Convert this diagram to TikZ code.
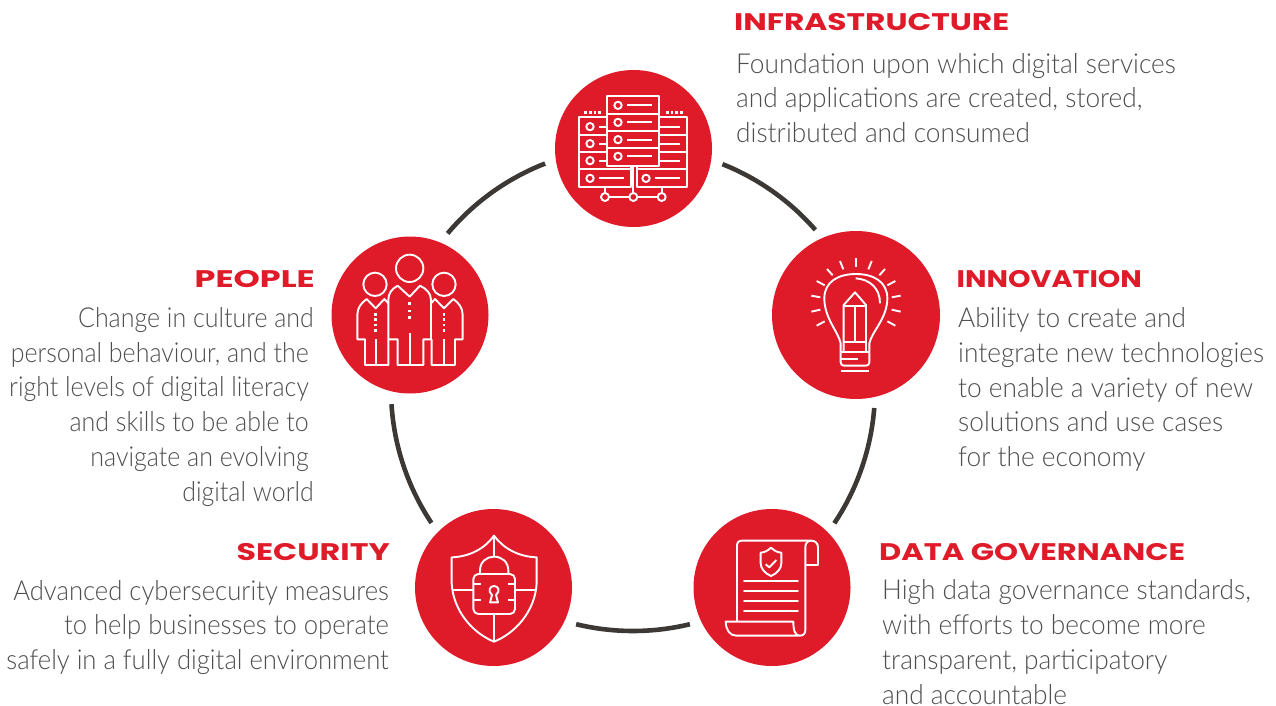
\documentclass[tikz,border=0pt]{standalone}
\usepackage{graphicx}
\usepackage{fontspec}
\setmainfont[FakeStretch=0.955]{Lato Light}
\newfontfamily\narrowa[FakeStretch=0.908]{Lato Light}
\newfontfamily\narrowb[FakeStretch=0.933]{Lato Light}
\newfontfamily\headfont[FakeStretch=1.18]{Poppins Bold}
\definecolor{brand}{HTML}{DF1B2A}
\definecolor{ringc}{HTML}{3B3835}
\definecolor{bodyc}{HTML}{4E4E50}
\tikzset{
  badge/.style={circle,fill=brand,draw=none,inner sep=0pt,minimum size=157pt},
  ringarc/.style={draw=ringc,line width=4.6pt},
  head/.style={text=brand,inner sep=0pt,font=\headfont\fontsize{24}{28}\selectfont},
  para/.style={text=bodyc,inner sep=0pt,font=\fontsize{27.5}{34.7}\selectfont},
  icon/.style={draw=white,line width=1.9pt,line join=round,line cap=butt,fill=none},
  iconfine/.style={icon,line cap=round},
  px/.style={shift={#1},x=0.33333pt,y=-0.33333pt}
}
\begin{document}
\begin{tikzpicture}[x=1pt,y=-1pt]
\useasboundingbox (0,0) rectangle (1276,706);
% ring
\coordinate (ring) at (633,389);
\foreach \n/\a/\b in {ab/-68.3/-41.1,bc/4.5/33.7,cd/76.4/103.6,de/146.4/176.4,ea/220/248.7}{
  \path (ring) ++(\a:242) coordinate (start\n);
  \draw[ringarc] (start\n) arc[start angle=\a,end angle=\b,radius=242];
}
% badges
\node[badge] (infra) at (633.5,148.5) {};
\node[badge,minimum size=168pt] (innov) at (856,315) {};
\node[badge] (people) at (410,315) {};
\node[badge] (secur) at (493.5,587.5) {};
\node[badge] (data) at (772,587.5) {};
% server icon
\begin{scope}[px={(550,65)}]
 \draw[icon] (172,93) rectangle (328,302);
 \foreach \y in {147,198,250} \draw[icon] (172,\y)--(328,\y);
 \draw[icon] (172,157)--(88,157)--(88,367)--(242,367)--(242,302);
 \draw[icon] (328,157)--(412,157)--(412,367)--(260,367)--(260,302);
 \foreach \y in {210,262} {\draw[icon] (88,\y)--(172,\y);\draw[icon] (328,\y)--(412,\y);}
 \draw[icon] (88,313)--(242,313);\draw[icon] (260,313)--(412,313);
 \foreach \y in {121,172,224,274} {\draw[icon] (204,\y) circle[radius=11];\draw[icon] (232,\y)--(305,\y);}
 \foreach \y in {185,236,287} {\draw[icon] (120,\y) circle[radius=11];\draw[icon] (148,\y)--(172,\y);\draw[icon] (328,\y)--(390,\y);}
 \draw[icon] (120,340) circle[radius=11];\draw[icon] (148,340)--(222,340);
 \draw[icon] (288,340) circle[radius=11];\draw[icon] (316,340)--(390,340);
 \foreach \x in {107,121,135,149,352,366,380,394} \fill[white] (\x-4,138) rectangle (\x+4,146);
 \foreach \x in {165,250,335} \draw[icon] (\x,396) circle[radius=12];
 \draw[icon] (177,396)--(238,396);\draw[icon] (262,396)--(323,396);
 \draw[icon] (165,367)--(165,384);\draw[icon] (335,367)--(335,384);\draw[icon] (250,302)--(250,384);
\end{scope}
% bulb icon
\begin{scope}[px={(770,235)}]
 \foreach \a/\b/\c/\d in {258/70/258/96,210/78/220/103,171/102/188/121,140/138/164/151,124/182/151/187,124/230/151/224,140/272/164/259,295/103/305/78,328/121/345/102,352/151/376/138,365/187/392/182,365/224/392/230,352/259/376/272}
   \draw[icon] (\a,\b)--(\c,\d);
 \draw[icon] (212,352)--(212,325) .. controls (205,290) and (163,250) .. (163,190) .. controls (163,140) and (205,117) .. (258,117) .. controls (310,117) and (352,140) .. (352,190) .. controls (352,250) and (305,290) .. (298,325)--(298,352);
 \draw[icon] (257,130) .. controls (300,133) and (330,160) .. (330,205);
 \draw[icon] (221,352)--(221,210)--(255,172)--(288,210)--(288,352);
 \draw[icon] (221,212)--(288,212);\draw[icon] (255,212)--(255,320);
 \draw[icon] (221,322)--(288,322);\draw[icon] (212,352)--(298,352);
 \draw[icon] (212,352)--(212,382) .. controls (212,388) and (216,392) .. (222,392)--(288,392) .. controls (294,392) and (298,388) .. (298,382)--(298,352);
 \draw[icon] (212,372)--(265,372);\draw[icon] (212,407)--(298,407);
\end{scope}
% people icon
\begin{scope}[px={(325,235)}]
 \draw[icon] (254,100) circle[radius=41];
 \draw[icon] (218,152)--(254,185)--(285,152) .. controls (305,162) and (318,175) .. (318,195)--(318,313)--(295,313)--(295,390)--(218,390)--(218,313)--(190,313)--(190,195) .. controls (190,175) and (200,162) .. (218,152);
 \draw[icon] (254,295)--(254,390);
 \foreach \y in {205,228,248} \fill[white] (250,\y-4) rectangle (258,\y+4);
 \draw[icon] (150,148) circle[radius=35];
 \draw[icon] (190,205)--(178,192)--(152,220)--(125,192) .. controls (108,205) and (97,218) .. (97,240)--(97,313)--(120,313)--(120,390)--(190,390)--(190,313);
 \draw[icon] (153,313)--(153,390);
 \draw[icon] (357,148) circle[radius=35];
 \draw[icon] (318,205)--(330,192)--(357,220)--(385,192) .. controls (402,205) and (413,218) .. (413,240)--(413,313)--(390,313)--(390,390)--(320,390)--(320,313);
 \draw[icon] (357,313)--(357,390);
 \foreach \x in {152,357} \foreach \y in {238,254,270,286} \fill[white] (\x-4,\y-4) rectangle (\x+4,\y+4);
\end{scope}
% shield icon
\begin{scope}[px={(410,505)}]
 \draw[icon] (252,92) .. controls (225,130) and (180,155) .. (125,157)--(125,235) .. controls (130,320) and (190,385) .. (252,410) .. controls (315,385) and (375,320) .. (380,235)--(380,157) .. controls (325,155) and (280,130) .. (252,92)--cycle;
 \draw[icon] (252,92)--(252,155);\draw[icon] (252,327)--(252,410);
 \draw[icon] (128,255)--(190,255);\draw[icon] (315,255)--(377,255);
 \draw[icon,rounded corners=5pt] (190,207) rectangle (315,327);
 \draw[icon] (210,207)--(210,197) .. controls (210,170) and (230,155) .. (252,155) .. controls (275,155) and (295,170) .. (295,197)--(295,207);
 \draw[icon] (190,237)--(212,237);\draw[icon] (190,285)--(212,285);
 \draw[icon] (293,237)--(315,237);\draw[icon] (293,285)--(315,285);
 \draw[icon] (246,270) .. controls (232,258) and (240,243) .. (252,243) .. controls (265,243) and (272,258) .. (258,270)--(264,292)--(240,292)--cycle;
\end{scope}
% document icon
\begin{scope}[px={(688,505)}]
 \draw[icon] (147,350)--(147,122) .. controls (147,112) and (152,107) .. (162,107)--(370,107) .. controls (382,107) and (390,115) .. (390,127)--(390,180)--(352,180);
 \draw[icon] (370,107) .. controls (358,107) and (352,115) .. (352,127)--(352,375) .. controls (352,386) and (346,392) .. (335,392) .. controls (322,392) and (316,378) .. (316,350)--(113,350) .. controls (114,375) and (125,392) .. (145,392)--(335,392);
 \draw[icon] (249,128) .. controls (260,138) and (268,142) .. (280,143)--(280,175) .. controls (280,190) and (268,205) .. (249,213) .. controls (230,205) and (218,190) .. (218,175)--(218,143) .. controls (230,142) and (238,138) .. (249,128)--cycle;
 \draw[icon] (233,178)--(244,187)--(265,165);
 \foreach \y in {227,257,287,317} \draw[iconfine] (168,\y)--(330,\y);
\end{scope}
% headings
\node[head,anchor=base west] (h1) at (734,31) {\scalebox{1.104}[1]{INFRASTRUCTURE}};
\node[head,anchor=base west] (h2) at (956.5,287) {\scalebox{1.01}[1]{INNOVATION}};
\node[head,anchor=base east] (h3) at (315,287) {\scalebox{1.18}[1]{PEOPLE}};
\node[head,anchor=base east] (h4) at (390,560) {\scalebox{1.12}[1]{SECURITY}};
\node[head,anchor=base west] (h5) at (879,560) {\scalebox{1.078}[1]{DATA GOVERNANCE}};
% paragraphs
\node[para,align=left,anchor=base west] (t1) at (736,142.5) {Foundation upon which digital services\\and applications are created, stored,\\distributed and consumed};
\node[para,align=left,anchor=base west] (t2) at (958,466.5) {Ability to create and\\integrate new technologies\\to enable a variety of new\\solutions and use cases\\for the economy};
\node[para,align=right,anchor=base east,font=\narrowa\fontsize{27.5}{34.7}\selectfont] (t3) at (314,501) {Change in culture and\\personal behaviour, and the\kern5pt\relax\\right levels of digital literacy\kern5pt\relax\\and skills to be able to\kern5pt\relax\\navigate an evolving\kern5pt\relax\\digital world};
\node[para,align=right,anchor=base east,font=\narrowb\fontsize{27.5}{34.7}\selectfont] (t4) at (389,669.5) {Advanced cybersecurity measures\\to help businesses to operate\\safely in a fully digital environment};
\node[para,align=left,anchor=base west,text depth=0pt] (t5) at (882,704) {High data governance standards,\\with efforts to become more\\transparent, participatory\\and accountable};
\end{tikzpicture}
\end{document}
